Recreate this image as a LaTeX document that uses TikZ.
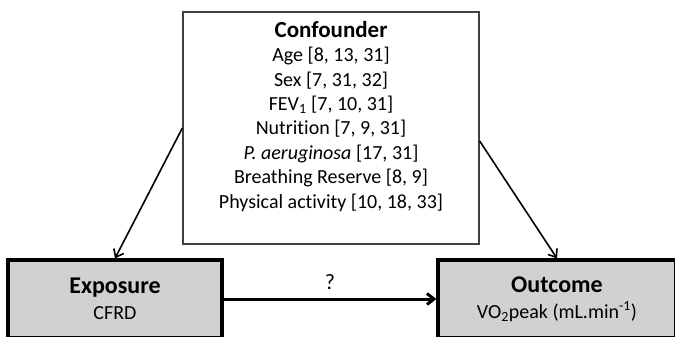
\documentclass[tikz,border=0pt]{standalone}
\usepackage{fontspec}
\setmainfont{Carlito}[Ligatures=NoCommon]
\usetikzlibrary{arrows.meta}
\begin{document}
\begin{tikzpicture}[x=1pt,y=-1pt,every node/.style={font=\fontsize{20}{24.4}\selectfont},
  varbox/.style={draw,line width=3.2pt,fill=black!18,align=center,inner sep=0pt,font=\fontsize{20}{26}\selectfont},
  arr/.style={-{Straight Barb[length=7pt,width=11pt]},line width=1.6pt}]
\useasboundingbox (0,0) rectangle (675,337);
\clip (0,0) rectangle (675,337);
% confounder box with its list
\node[draw=black!75,line width=1.3pt,minimum width=296pt,minimum height=232pt] (conf) at (331,128) {};
\node[align=center,anchor=north,inner sep=0pt] (conftext) at (331,21) {{\fontsize{23}{26}\selectfont\bfseries Confounder}\\Age [8, 13, 31]\\Sex [7, 31, 32]\\FEV\textsubscript{1} [7, 10, 31]\\Nutrition [7, 9, 31]\\\textit{P. aeruginosa} [17, 31]\\Breathing Reserve [8, 9]\\Physical activity [10, 18, 33]};
% exposure and outcome
\node[varbox,minimum width=214pt,minimum height=78pt] (exp) at (115,299) {{\fontsize{24}{26}\selectfont\bfseries Exposure}\\CFRD};
\node[varbox,minimum width=238pt,minimum height=78pt] (out) at (557,299) {{\fontsize{24}{26}\selectfont\bfseries Outcome}\\VO\textsubscript{2}peak (mL.min\textsuperscript{-1})};
\draw[arr] (conf.west) -- (exp.north);
\draw[arr] ([yshift=-13pt]conf.east) -- (out.north);
\draw[arr,line width=3pt] (exp.east) -- node[above=5pt,font=\fontsize{22}{24}\selectfont] (q) {?} (out.west);
\end{tikzpicture}
\end{document}
